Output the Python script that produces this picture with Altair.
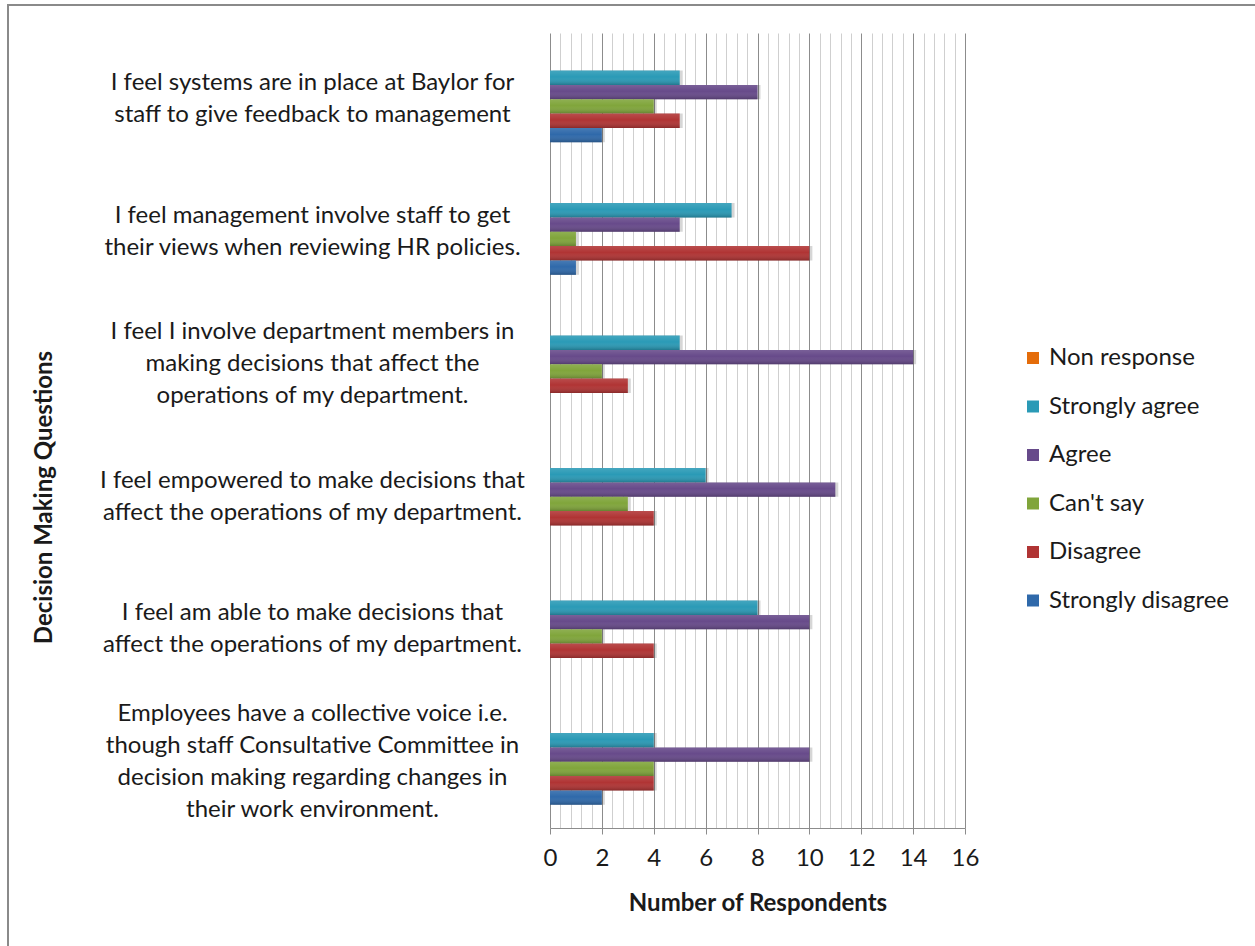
import altair as alt
import pandas as pd

# Survey questions (line breaks marked with "|")
questions = [
    "I feel systems are in place at Baylor for|staff to give feedback to management",
    "I feel  management involve staff to get|their views when reviewing HR policies.",
    "I feel I involve department members in|making decisions that affect the|operations of my department.",
    "I feel  empowered to make decisions that|affect the operations of my department.",
    "I feel am able to make decisions that|affect the operations of my department.",
    "Employees have a collective voice i.e.|though staff  Consultative Committee in|decision making regarding changes in|their work environment.",
]

responses = ["Non response", "Strongly agree", "Agree", "Can't say", "Disagree", "Strongly disagree"]
colors = ["#E46C0A", "#2A9AB6", "#674A8A", "#80A53B", "#B03434", "#2F69AA"]

non_response = [0, 0, 0, 0, 0, 0]
strongly_agree = [5, 7, 5, 6, 8, 4]
agree = [8, 5, 14, 11, 10, 10]
cant_say = [4, 1, 2, 3, 2, 4]
disagree = [5, 10, 3, 4, 4, 4]
strongly_disagree = [2, 1, 0, 0, 0, 2]

series = [non_response, strongly_agree, agree, cant_say, disagree, strongly_disagree]

rows = []
for resp, vals in zip(responses, series):
    for q, v in zip(questions, vals):
        rows.append({"question": q, "response": resp, "count": v})
df = pd.DataFrame(rows)

FONT = "Lato"
W, H = 415, 795
PAD_L, PAD_T = 550, 33
CANVAS_W, CANVAS_H = 1255, 946
LINE_H = 32

tick_values = [round(i * 0.4, 1) for i in range(41)]
is_major = "abs(datum.value / 2 - round(datum.value / 2)) < 0.001"

# shift multi-line labels up so each block is centred on its band
n_lines = "length(split(datum.value, '|'))"
label_offset = {
    "condition": [
        {"test": f"{n_lines} == 2", "value": -LINE_H / 2},
        {"test": f"{n_lines} == 3", "value": -LINE_H},
        {"test": f"{n_lines} == 4", "value": -LINE_H * 1.5},
    ],
    "value": 0,
}

x_enc = alt.X(
    "count:Q",
    scale=alt.Scale(domain=[0, 16], nice=False, zero=True),
    axis=alt.Axis(
        title="Number of Respondents",
        values=tick_values,
        labelExpr=f"{is_major} ? format(datum.value, 'd') : ''",
        labelOverlap=False,
        labelFlush=False,
        labelFont=FONT,
        labelFontSize=24,
        labelColor="#1a1a1a",
        labelPadding=12,
        tickSize=6,
        tickColor=alt.condition(is_major, alt.value("#8c8c8c"), alt.value("transparent")),
        domainColor="#8c8c8c",
        grid=True,
        gridColor=alt.condition(is_major, alt.value("#8c8c8c"), alt.value("#cfcfcf")),
        gridWidth=1,
        titleFont=FONT,
        titleFontSize=24,
        titleFontWeight="bold",
        titleColor="#1a1a1a",
        titleY=75,
        titleBaseline="middle",
    ),
)

y_enc = alt.Y(
    "question:N",
    sort=questions,
    scale=alt.Scale(paddingInner=0.35, paddingOuter=0.175),
    axis=alt.Axis(
        title="Decision Making Questions",
        labelExpr="split(datum.label, '|')",
        labelAlign="center",
        labelBaseline="middle",
        labelPadding=238,
        labelOffset=label_offset,
        labelLineHeight=LINE_H,
        labelFont=FONT,
        labelFontSize=24,
        labelColor="#1a1a1a",
        labelLimit=600,
        ticks=False,
        domain=False,
        titleFont=FONT,
        titleFontSize=24,
        titleFontWeight="bold",
        titleColor="#1a1a1a",
        titleX=-506,
        titleY=464,
        titleBaseline="middle",
    ),
)

yoff_enc = alt.YOffset("response:N", sort=responses, scale=alt.Scale(paddingInner=0, paddingOuter=0))

base = alt.Chart(df)

shadow = base.mark_bar(color="#000000", opacity=0.16, xOffset=3, yOffset=3).encode(
    x=x_enc, y=y_enc, yOffset=yoff_enc
)

bars = base.mark_bar().encode(
    x=x_enc,
    y=y_enc,
    yOffset=yoff_enc,
    color=alt.Color(
        "response:N",
        sort=responses,
        scale=alt.Scale(domain=responses, range=colors),
        legend=alt.Legend(
            title=None,
            orient="none",
            legendX=471,
            legendY=313,
            symbolType="square",
            symbolSize=144,
            symbolStrokeWidth=0,
            labelFont=FONT,
            labelFontSize=24,
            labelColor="#1a1a1a",
            labelOffset=4,
            labelLimit=300,
            rowPadding=24.5,
            padding=0,
        ),
    ),
)

# light-to-dark sheen over each bar
sheen = base.mark_bar(
    color=alt.Gradient(
        gradient="linear",
        stops=[
            alt.GradientStop(color="rgba(255,255,255,0.12)", offset=0),
            alt.GradientStop(color="rgba(255,255,255,0.0)", offset=0.45),
            alt.GradientStop(color="rgba(0,0,0,0.22)", offset=1),
        ],
        x1=0, x2=0, y1=0, y2=1,
    )
).encode(x=x_enc, y=y_enc, yOffset=yoff_enc)

frame = alt.Chart(alt.Data(values=[{}])).mark_rect(
    fill="transparent", stroke="#8a8a8a", strokeWidth=2
).encode(
    x=alt.value(8 - PAD_L),
    x2=alt.value(CANVAS_W + 20 - PAD_L),
    y=alt.value(5 - PAD_T),
    y2=alt.value(CANVAS_H + 20 - PAD_T),
)

chart = (
    alt.layer(shadow, bars, sheen, frame)
    .properties(
        width=W,
        height=H,
        autosize=alt.AutoSizeParams(type="none"),
        padding={"left": PAD_L, "top": PAD_T, "right": CANVAS_W - PAD_L - W, "bottom": CANVAS_H - PAD_T - H},
        background="white",
    )
    .configure_view(stroke=None)
)

chart.save("out.html", embed_options={"renderer": "svg", "actions": False})
